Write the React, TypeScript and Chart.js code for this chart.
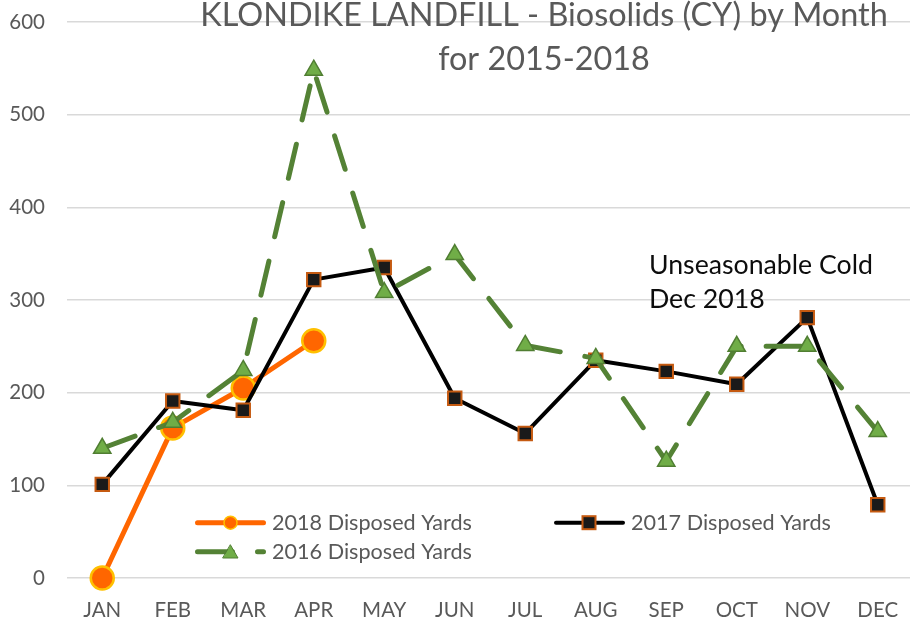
import React, { useEffect, useRef } from "react";
import { Chart, registerables } from "chart.js";

Chart.register(...registerables);

// ---------- data ----------
const months = ["JAN", "FEB", "MAR", "APR", "MAY", "JUN", "JUL", "AUG", "SEP", "OCT", "NOV", "DEC"];
const yards2018 = [0, 162, 205, 256];
const yards2017 = [101, 191, 181, 322, 335, 194, 156, 235, 223, 209, 281, 79];
const yards2016 = [140, 168, 224, 548, 308, 349, 251, 237, 126, 250, 250, 158];
const yMin = 0;
const yMax = 600;
const yStep = 100;
const titleLines = ["KLONDIKE LANDFILL - Biosolids (CY) by Month", "for 2015-2018"];
const noteLines = ["Unseasonable Cold", "Dec 2018"];
const legendLabels = ["2018 Disposed Yards", "2017 Disposed Yards", "2016 Disposed Yards"];

// ---------- style ----------
const FONT = "Lato, 'Open Sans', sans-serif";
const GRAY_TEXT = "#595959";
const ORANGE = "#FF6600";
const GOLD = "#FFC000";
const BLACK = "#000000";
const SQUARE_FILL = "#1A1A1A";
const SQUARE_BORDER = "#C55A11";
const GREEN_LINE = "#548235";
const GREEN_FILL = "#70AD47";
const GREEN_BORDER = "#507E32";
const GREEN_DASH = [35, 25];

function fitFont(ctx: CanvasRenderingContext2D, text: string, width: number) {
  ctx.font = `100px ${FONT}`;
  const w = ctx.measureText(text).width;
  return (100 * width) / w;
}

function drawTriangle(ctx: CanvasRenderingContext2D, cx: number, top: number, bottom: number, halfW: number) {
  ctx.beginPath();
  ctx.moveTo(cx, top);
  ctx.lineTo(cx + halfW, bottom);
  ctx.lineTo(cx - halfW, bottom);
  ctx.closePath();
}

const overlayPlugin = {
  id: "overlay",
  afterDraw(chart: any) {
    const ctx: CanvasRenderingContext2D = chart.ctx;
    ctx.save();

    // Title
    const tSize = fitFont(ctx, titleLines[0], 688);
    ctx.font = `${tSize}px ${FONT}`;
    ctx.fillStyle = GRAY_TEXT;
    ctx.textAlign = "center";
    ctx.textBaseline = "alphabetic";
    ctx.fillText(titleLines[0], 544, 26);
    ctx.fillText(titleLines[1], 544, 70);

    // Annotation
    const nSize = fitFont(ctx, noteLines[0], 224);
    ctx.font = `${nSize}px ${FONT}`;
    ctx.fillStyle = "#0D0D0D";
    ctx.textAlign = "left";
    ctx.fillText(noteLines[0], 649, 273.5);
    ctx.fillText(noteLines[1], 649, 307.5);

    // Legend
    const lSize = fitFont(ctx, legendLabels[0], 200);
    ctx.lineCap = "round";

    // item 1: 2018
    ctx.strokeStyle = ORANGE;
    ctx.lineWidth = 5;
    ctx.beginPath();
    ctx.moveTo(197.5, 522.7);
    ctx.lineTo(263.5, 522.7);
    ctx.stroke();
    ctx.beginPath();
    ctx.arc(230.5, 522.7, 6.5, 0, Math.PI * 2);
    ctx.fillStyle = ORANGE;
    ctx.fill();
    ctx.lineWidth = 1.5;
    ctx.strokeStyle = GOLD;
    ctx.stroke();

    // item 2: 2017
    ctx.strokeStyle = BLACK;
    ctx.lineWidth = 4;
    ctx.beginPath();
    ctx.moveTo(556, 522.7);
    ctx.lineTo(623, 522.7);
    ctx.stroke();
    ctx.fillStyle = SQUARE_FILL;
    ctx.fillRect(582.5, 516.2, 13, 13);
    ctx.lineWidth = 2;
    ctx.strokeStyle = SQUARE_BORDER;
    ctx.strokeRect(582.5, 516.2, 13, 13);

    // item 3: 2016
    ctx.strokeStyle = GREEN_LINE;
    ctx.lineWidth = 5;
    ctx.setLineDash(GREEN_DASH);
    ctx.beginPath();
    ctx.moveTo(197.5, 551.7);
    ctx.lineTo(263.5, 551.7);
    ctx.stroke();
    ctx.setLineDash([]);
    drawTriangle(ctx, 230.5, 545, 558, 7.5);
    ctx.fillStyle = GREEN_FILL;
    ctx.fill();
    ctx.lineWidth = 1;
    ctx.strokeStyle = GREEN_BORDER;
    ctx.stroke();

    ctx.font = `${lSize}px ${FONT}`;
    ctx.fillStyle = GRAY_TEXT;
    ctx.textAlign = "left";
    ctx.fillText(legendLabels[0], 272, 530);
    ctx.fillText(legendLabels[1], 631, 530);
    ctx.fillText(legendLabels[2], 272, 559.3);

    ctx.restore();
  },
};

export default function App() {
  const canvasRef = useRef<HTMLCanvasElement | null>(null);

  useEffect(() => {
    const canvas = canvasRef.current;
    if (!canvas) return;
    const chart = new Chart(canvas, {
      type: "line",
      data: {
        labels: months,
        datasets: [
          {
            label: legendLabels[0],
            data: yards2018,
            borderColor: ORANGE,
            borderWidth: 5,
            borderJoinStyle: "round",
            borderCapStyle: "round",
            pointStyle: "circle",
            pointRadius: 11.5,
            pointBorderWidth: 2.5,
            pointBackgroundColor: ORANGE,
            pointBorderColor: GOLD,
            tension: 0,
            order: 2,
            clip: false,
          },
          {
            label: legendLabels[1],
            data: yards2017,
            borderColor: BLACK,
            borderWidth: 4,
            borderJoinStyle: "round",
            borderCapStyle: "round",
            pointStyle: "rect",
            pointRadius: 9.5,
            pointBorderWidth: 2,
            pointBackgroundColor: SQUARE_FILL,
            pointBorderColor: SQUARE_BORDER,
            tension: 0,
            order: 1,
            clip: false,
          },
          {
            label: legendLabels[2],
            data: yards2016,
            borderColor: GREEN_LINE,
            borderWidth: 5,
            borderDash: GREEN_DASH,
            borderCapStyle: "round",
            borderJoinStyle: "round",
            pointStyle: "triangle",
            pointRadius: 10,
            pointBorderWidth: 1.5,
            pointBackgroundColor: GREEN_FILL,
            pointBorderColor: GREEN_BORDER,
            tension: 0,
            order: 0,
            clip: false,
          },
        ],
      },
      options: {
        responsive: false,
        animation: false,
        devicePixelRatio: 1,
        layout: { autoPadding: false, padding: { top: 22, left: 0, right: 0, bottom: 0 } },
        plugins: {
          legend: { display: false },
          title: { display: false },
          tooltip: { enabled: false },
        },
        scales: {
          x: {
            offset: true,
            grid: { display: false, drawTicks: false },
            border: { display: false },
            ticks: {
              color: GRAY_TEXT,
              font: { family: FONT, size: 20.5 },
              padding: 20,
              maxRotation: 0,
              autoSkip: false,
            },
            afterFit: (s: any) => {
              s.height = 42;
              s.paddingLeft = 0;
              s.paddingRight = 0;
            },
          },
          y: {
            min: yMin,
            max: yMax,
            ticks: {
              stepSize: yStep,
              color: GRAY_TEXT,
              font: { family: FONT, size: 20.5 },
              padding: 22,
            },
            grid: { color: "#D9D9D9", lineWidth: 1.5, drawTicks: false },
            border: { display: false },
            afterFit: (s: any) => {
              s.width = 67;
              s.paddingTop = 0;
              s.paddingBottom = 0;
            },
          },
        },
      },
      plugins: [overlayPlugin],
    });
    return () => chart.destroy();
  }, []);

  return (
    <div
      style={{
        position: "absolute",
        left: 0,
        top: 0,
        width: 910,
        height: 620,
        overflow: "hidden",
        background: "#ffffff",
      }}
    >
      <canvas ref={canvasRef} width={913} height={620} style={{ width: 913, height: 620, display: "block" }} />
    </div>
  );
}
